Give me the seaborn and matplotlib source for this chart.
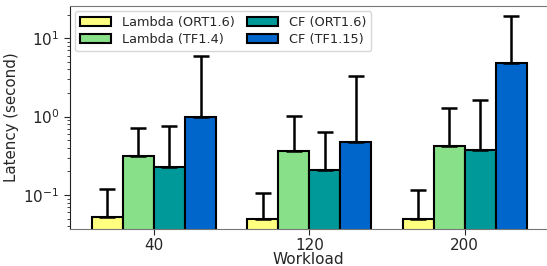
import numpy as np
import pandas as pd
import seaborn as sns
import matplotlib
matplotlib.use("Agg")
import matplotlib.pyplot as plt

workloads = ["40", "120", "200"]
series = ["Lambda (ORT1.6)", "Lambda (TF1.4)", "CF (ORT1.6)", "CF (TF1.15)"]
lambda_ort = [0.052, 0.049, 0.050]
lambda_tf = [0.314, 0.36, 0.42]
cf_ort = [0.225, 0.21, 0.376]
cf_tf = [1.0, 0.47, 4.78]
lambda_ort_err_top = [0.12, 0.107, 0.116]
lambda_tf_err_top = [0.72, 1.03, 1.29]
cf_ort_err_top = [0.77, 0.645, 1.65]
cf_tf_err_top = [6.0, 3.26, 18.9]
colors = ["#ffff80", "#88e088", "#009999", "#0066cc"]

values = [lambda_ort, lambda_tf, cf_ort, cf_tf]
tops = [lambda_ort_err_top, lambda_tf_err_top, cf_ort_err_top, cf_tf_err_top]

rows = []
for s, vals in zip(series, values):
    for w, v in zip(workloads, vals):
        rows.append({"Workload": w, "Series": s, "Latency": v})
df = pd.DataFrame(rows)

sns.set_style("ticks")
plt.rcParams['font.family'] = ['DejaVu Sans']
fig = plt.figure(figsize=(5.47, 2.66), dpi=100)
ax = fig.add_axes([0.128, 0.139, 0.872, 0.838])

sns.barplot(data=df, x="Workload", y="Latency", hue="Series", order=workloads,
            hue_order=series, palette=colors, saturation=1, edgecolor="black",
            linewidth=1.5, width=0.8, gap=0, errorbar=None, ax=ax,
            log_scale=(False, True))

# error bars (upper only)
for i, (s, vals, tp) in enumerate(zip(series, values, tops)):
    cont = ax.containers[i]
    xs = [p.get_x() + p.get_width() / 2 for p in cont.patches]
    lower = np.zeros(len(vals))
    upper = np.array(tp) - np.array(vals)
    ax.errorbar(xs, vals, yerr=[lower, upper], fmt="none", ecolor="black",
                elinewidth=1.8, capsize=6, capthick=1.8, zorder=5)

ax.set_yscale("log")
ax.set_ylim(0.0369, 25.6)
ax.set_xlim(-0.54, 2.53)
ax.set_xlabel("Workload", fontsize=11, labelpad=-0.5)
ax.set_ylabel("Latency (second)", fontsize=10.8, labelpad=3)
ax.tick_params(axis="both", labelsize=11)
ax.tick_params(axis="x", length=4, pad=2.5)
ax.tick_params(axis="y", which="major", length=4)
for sp in ["top", "bottom"]:
    ax.spines[sp].set_color("#777777")
ax.spines["right"].set_visible(False)
ax.spines["left"].set_color("#222222")

leg = ax.legend(ncol=2, loc="upper left", fontsize=9.3, frameon=True,
                handlelength=2.4, handletextpad=0.8, columnspacing=1.0,
                borderaxespad=0.4, labelspacing=0.3)
for h in leg.legend_handles:
    h.set_edgecolor("black")
    h.set_linewidth(1.5)

fig.savefig("out.png", dpi=100)
